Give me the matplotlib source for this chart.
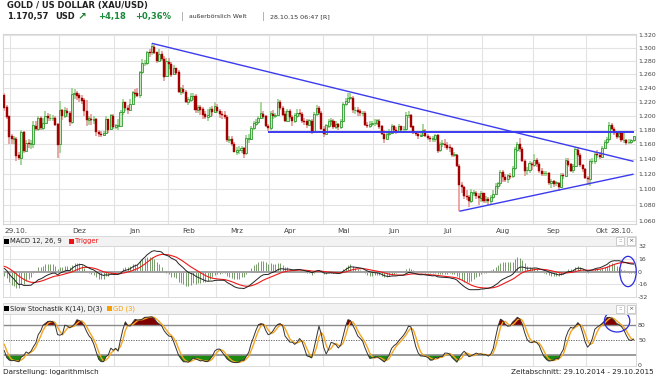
import numpy as np
import pandas as pd
import matplotlib.pyplot as plt
from matplotlib.patches import Rectangle, Ellipse
from matplotlib.ticker import FixedLocator, NullLocator, NullFormatter

# Daily XAU/USD data, 29.10.2014 - 28.10.2015 (business days)
dates = pd.bdate_range('2014-10-29', '2015-10-28')
first_open = 1229

closes = [
    1212, 1199, 1171, 1168, 1168, 1145, 1142, 1177, 1151, 1162, 1161, 1161, 1186, 1182, 1197, 1183,
    1190, 1199, 1197, 1197, 1197, 1188, 1160, 1208, 1200, 1207, 1204, 1191, 1231, 1232, 1229, 1226,
    1222, 1207, 1194, 1196, 1194, 1195, 1177, 1175, 1173, 1176, 1195, 1181, 1200, 1184, 1186, 1186,
    1205, 1219, 1211, 1208, 1217, 1233, 1232, 1229, 1263, 1277, 1277, 1294, 1293, 1302, 1293, 1280,
    1291, 1283, 1257, 1279, 1276, 1260, 1269, 1263, 1234, 1239, 1234, 1220, 1223, 1228, 1228, 1208,
    1212, 1209, 1202, 1198, 1200, 1209, 1205, 1213, 1207, 1203, 1201, 1198, 1166, 1167, 1161, 1150,
    1152, 1152, 1155, 1148, 1168, 1168, 1183, 1189, 1191, 1197, 1203, 1199, 1186, 1183, 1203, 1200,
    1201, 1219, 1211, 1202, 1193, 1206, 1198, 1193, 1200, 1204, 1203, 1193, 1192, 1187, 1193, 1178,
    1202, 1211, 1204, 1182, 1175, 1186, 1192, 1193, 1184, 1188, 1184, 1192, 1217, 1220, 1225, 1226,
    1208, 1208, 1206, 1204, 1204, 1187, 1186, 1188, 1190, 1190, 1193, 1185, 1175, 1168, 1174, 1176,
    1185, 1180, 1179, 1185, 1181, 1181, 1201, 1201, 1185, 1176, 1175, 1172, 1173, 1179, 1172, 1169,
    1168, 1168, 1173, 1152, 1160, 1161, 1159, 1156, 1155, 1146, 1146, 1131, 1106, 1103, 1092, 1090,
    1085, 1096, 1096, 1092, 1089, 1095, 1086, 1087, 1085, 1090, 1094, 1104, 1108, 1123, 1116, 1113,
    1118, 1117, 1128, 1153, 1160, 1154, 1138, 1125, 1125, 1134, 1132, 1139, 1134, 1124, 1121, 1121,
    1121, 1109, 1111, 1108, 1109, 1103, 1119, 1118, 1138, 1133, 1125, 1131, 1153, 1146, 1132, 1127,
    1115, 1114, 1137, 1137, 1147, 1146, 1143, 1155, 1163, 1167, 1187, 1182, 1176, 1171, 1176, 1166,
    1166, 1163, 1163, 1166, 1170.6,
]
highs = [
    1232, 1215, 1200, 1175, 1172, 1170, 1150, 1180, 1178, 1166, 1168, 1166, 1192, 1192, 1200, 1200,
    1197, 1207, 1204, 1202, 1201, 1199, 1190, 1221, 1210, 1212, 1211, 1206, 1240, 1238, 1236, 1233,
    1229, 1226, 1222, 1200, 1203, 1199, 1197, 1180, 1178, 1178, 1199, 1196, 1203, 1202, 1188, 1195,
    1208, 1224, 1220, 1215, 1224, 1235, 1239, 1240, 1265, 1283, 1282, 1296, 1299, 1307, 1305, 1293,
    1298, 1295, 1288, 1285, 1284, 1278, 1274, 1270, 1266, 1242, 1244, 1237, 1227, 1232, 1233, 1231,
    1215, 1215, 1212, 1206, 1210, 1213, 1214, 1220, 1216, 1210, 1207, 1206, 1201, 1172, 1171, 1164,
    1156, 1158, 1158, 1156, 1173, 1175, 1186, 1192, 1195, 1200, 1220, 1206, 1201, 1189, 1206, 1208,
    1204, 1224, 1222, 1214, 1206, 1209, 1209, 1201, 1204, 1209, 1210, 1205, 1197, 1195, 1196, 1195,
    1205, 1215, 1214, 1206, 1185, 1189, 1196, 1197, 1195, 1193, 1190, 1195, 1220, 1226, 1232, 1233,
    1228, 1213, 1212, 1210, 1207, 1206, 1191, 1192, 1193, 1195, 1196, 1195, 1187, 1180, 1177, 1181,
    1189, 1187, 1184, 1188, 1186, 1185, 1205, 1207, 1203, 1186, 1179, 1177, 1177, 1188, 1181, 1174,
    1172, 1172, 1175, 1175, 1163, 1166, 1167, 1163, 1160, 1157, 1149, 1147, 1133, 1110, 1105, 1099,
    1093, 1100, 1099, 1098, 1095, 1098, 1096, 1092, 1090, 1093, 1099, 1108, 1110, 1126, 1125, 1120,
    1120, 1121, 1131, 1156, 1163, 1169, 1156, 1140, 1130, 1137, 1136, 1147, 1141, 1136, 1128, 1124,
    1124, 1123, 1113, 1112, 1111, 1110, 1121, 1121, 1141, 1141, 1135, 1134, 1156, 1156, 1148, 1133,
    1128, 1117, 1140, 1142, 1149, 1152, 1149, 1158, 1166, 1170, 1191, 1190, 1184, 1179, 1178, 1177,
    1179, 1167, 1167, 1168, 1172,
]
lows = [
    1206, 1195, 1161, 1160, 1160, 1137, 1139, 1132, 1148, 1150, 1155, 1154, 1155, 1178, 1179, 1180,
    1180, 1188, 1192, 1193, 1193, 1185, 1142, 1148, 1194, 1197, 1198, 1186, 1188, 1224, 1222, 1220,
    1216, 1200, 1185, 1187, 1187, 1188, 1171, 1170, 1170, 1171, 1174, 1176, 1180, 1181, 1182, 1180,
    1185, 1201, 1206, 1203, 1206, 1215, 1225, 1227, 1225, 1260, 1272, 1274, 1286, 1289, 1291, 1277,
    1279, 1280, 1250, 1256, 1268, 1256, 1259, 1259, 1232, 1230, 1231, 1218, 1215, 1220, 1222, 1204,
    1204, 1201, 1196, 1195, 1193, 1198, 1200, 1204, 1204, 1197, 1196, 1195, 1163, 1162, 1158, 1149,
    1146, 1147, 1148, 1142, 1146, 1162, 1166, 1180, 1186, 1189, 1196, 1195, 1184, 1178, 1180, 1196,
    1197, 1199, 1208, 1200, 1191, 1192, 1195, 1186, 1190, 1197, 1198, 1190, 1187, 1183, 1185, 1174,
    1177, 1200, 1201, 1180, 1170, 1174, 1183, 1187, 1181, 1182, 1180, 1182, 1191, 1214, 1218, 1222,
    1204, 1203, 1200, 1200, 1200, 1185, 1183, 1183, 1186, 1185, 1187, 1182, 1173, 1162, 1167, 1171,
    1174, 1178, 1175, 1177, 1177, 1177, 1178, 1197, 1183, 1174, 1171, 1168, 1170, 1172, 1170, 1166,
    1163, 1164, 1163, 1148, 1150, 1156, 1155, 1152, 1150, 1143, 1143, 1129, 1072, 1096, 1088, 1086,
    1077, 1082, 1091, 1087, 1080, 1084, 1082, 1083, 1080, 1081, 1087, 1093, 1100, 1105, 1110, 1110,
    1109, 1113, 1115, 1126, 1150, 1149, 1136, 1118, 1119, 1122, 1126, 1130, 1130, 1121, 1117, 1117,
    1117, 1106, 1102, 1103, 1104, 1098, 1102, 1113, 1116, 1130, 1123, 1122, 1129, 1143, 1130, 1123,
    1113, 1106, 1105, 1134, 1134, 1141, 1140, 1141, 1154, 1160, 1165, 1180, 1173, 1168, 1169, 1164,
    1162, 1159, 1160, 1160, 1164,
]

# prior month (30.09. - 28.10.2014), only used as indicator history
warm_closes = [1208, 1215, 1214, 1192, 1206, 1210, 1225, 1223, 1222, 1229, 1234,
               1244, 1239, 1237, 1245, 1251, 1245, 1229, 1231, 1229, 1226]
warm_highs = [1218, 1218, 1222, 1215, 1209, 1213, 1227, 1236, 1227, 1236, 1237,
              1249, 1247, 1242, 1248, 1255, 1253, 1247, 1236, 1235, 1233]
warm_lows = [1204, 1206, 1205, 1190, 1191, 1204, 1205, 1220, 1216, 1220, 1226,
             1226, 1234, 1231, 1235, 1240, 1238, 1226, 1227, 1225, 1222]

price_ticks = [1060, 1080, 1100, 1120, 1140, 1160, 1180, 1200, 1220, 1240, 1260, 1280, 1300, 1320]
month_names = ['Dez', 'Jan', 'Feb', 'Mrz', 'Apr', 'Mai', 'Jun', 'Jul', 'Aug', 'Sep', 'Okt']

# trend lines (date, price)
trend_lines = [
    (('2015-01-22', 1307), ('2015-10-28', 1137)),
    (('2015-03-31', 1177), ('2015-10-28', 1177)),
    (('2015-07-20', 1072), ('2015-10-28', 1120)),
]

closes = np.array(closes, dtype=float)
highs = np.array(highs, dtype=float)
lows = np.array(lows, dtype=float)
opens = np.concatenate([[first_open], closes[:-1]])
n = len(dates)
x = np.arange(n)
pos = {d: i for i, d in enumerate(dates)}

# indicators (computed with the prior month as history)
c = pd.Series(np.concatenate([warm_closes, closes]))
hi = pd.Series(np.concatenate([warm_highs, highs]))
lo = pd.Series(np.concatenate([warm_lows, lows]))
macd_all = c.ewm(span=12, adjust=False).mean() - c.ewm(span=26, adjust=False).mean()
trigger_all = macd_all.ewm(span=9, adjust=False).mean()
fast_k = 100 * (c - lo.rolling(14, min_periods=1).min()) / (
    hi.rolling(14, min_periods=1).max() - lo.rolling(14, min_periods=1).min())
slow_k_all = fast_k.rolling(3, min_periods=1).mean()
slow_d_all = slow_k_all.rolling(3, min_periods=1).mean()
macd = macd_all.values[-n:]
trigger = trigger_all.values[-n:]
hist = macd - trigger
slow_k = slow_k_all.values[-n:]
slow_d = slow_d_all.values[-n:]

W, H = 657, 378
fig = plt.figure(figsize=(W / 100, H / 100), dpi=100)


def px_axes(x0, y0, x1, y1):
    return fig.add_axes([x0 / W, 1 - y1 / H, (x1 - x0) / W, (y1 - y0) / H])


def px(xp, yp):
    return xp / W, 1 - yp / H


month_starts = [i for i in range(1, n) if dates[i].month != dates[i - 1].month]
XL = (-0.55, 261)
grid_c = '#e3e3e3'
lab_c = '#444444'
FS = 5.2
TFS = 4.5

# ---------- main price chart ----------
ax = px_axes(3, 34, 636, 224)
ax.set_yscale('log')
ax.set_ylim(1056, 1321.5)
ax.set_xlim(*XL)
ax.yaxis.set_major_locator(FixedLocator(price_ticks))
ax.yaxis.set_minor_locator(NullLocator())
ax.yaxis.set_minor_formatter(NullFormatter())
ax.set_yticklabels(['{:,}'.format(t).replace(',', '.') for t in price_ticks])
ax.yaxis.tick_right()
ax.tick_params(axis='y', length=0, pad=1.5, labelsize=TFS, labelcolor=lab_c)
ax.set_xticks([])
for t in price_ticks:
    ax.axhline(t, color=grid_c, lw=0.8, zorder=0)
for m in month_starts:
    ax.axvline(m - 0.5, color=grid_c, lw=0.8, zorder=0)
for s in ax.spines.values():
    s.set_color('#d5d5d5')
    s.set_linewidth(0.8)

up = closes >= opens
ax.vlines(x[up], lows[up], highs[up], color='#9fd493', lw=1.3, zorder=2)
ax.vlines(x[~up], lows[~up], highs[~up], color='#e8a0a0', lw=1.3, zorder=2)
ax.bar(x[up], closes[up] - opens[up] + 0.4, bottom=opens[up], width=0.85,
       facecolor='#c6e8bd', edgecolor='#2f9a2f', lw=0.6, zorder=3)
ax.bar(x[~up], closes[~up] - opens[~up] - 0.4, bottom=opens[~up], width=0.85,
       facecolor='#a30000', edgecolor='#a30000', lw=0.3, zorder=3)

for (d0, p0), (d1, p1) in trend_lines:
    ax.plot([pos[pd.Timestamp(d0)], pos[pd.Timestamp(d1)]], [p0, p1],
            color='#3b3bf0', lw=1.4 if p0 == p1 else 1.0, zorder=4, solid_capstyle='butt')

# month labels
xt = ax.get_xaxis_transform()
ax.text(0, -0.02, '29.10.', transform=xt, ha='left', va='top', fontsize=FS, color=lab_c)
for m, name in zip(month_starts[1:], month_names):
    off = 6 if name == 'Okt' else 8
    ax.text(m + off, -0.02, name, transform=xt, ha='center', va='top', fontsize=FS, color=lab_c)
ax.text(n - 1, -0.02, '28.10.', transform=xt, ha='right', va='top', fontsize=FS, color=lab_c)


def panel_header(y0, y1, items):
    fig.patches.append(Rectangle(px(3, y1), 633 / W, (y1 - y0) / H, transform=fig.transFigure,
                                 facecolor='#f2f2f2', edgecolor='#d5d5d5', lw=0.6))
    yc = 1 - (y0 + y1) / 2 / H
    for xp, txt, col in items:
        fig.patches.append(Rectangle(px(xp, (y0 + y1) / 2 + 2.5), 5 / W, 5 / H,
                                     transform=fig.transFigure, facecolor=col, edgecolor='none'))
        fig.text((xp + 6) / W, yc, txt, fontsize=4.9, color='#222222' if col == 'black' else col,
                 va='center', ha='left')
    for xp, sym in [(616, '::'), (627, '×')]:
        fig.patches.append(Rectangle(px(xp, (y0 + y1) / 2 + 4), 8 / W, 8 / H,
                                     transform=fig.transFigure, facecolor='white',
                                     edgecolor='#bbbbbb', lw=0.5))
        fig.text((xp + 4) / W, yc, sym, fontsize=4.5, color='#555555', ha='center', va='center')


def panel_axes(ax_):
    ax_.set_xlim(*XL)
    ax_.set_xticks([])
    ax_.yaxis.tick_right()
    ax_.tick_params(axis='y', length=0, pad=1.5, labelsize=TFS, labelcolor=lab_c)
    for m in month_starts:
        ax_.axvline(m - 0.5, color=grid_c, lw=0.8, zorder=0)
    for s in ax_.spines.values():
        s.set_color('#d5d5d5')
        s.set_linewidth(0.6)


# ---------- MACD ----------
panel_header(236, 246, [(4, 'MACD 12, 26, 9', 'black'), (69, 'Trigger', '#ee1111')])
axm = px_axes(3, 246, 636, 297)
panel_axes(axm)
axm.set_ylim(-32, 32)
axm.set_yticks([32, 16, 0, -16, -32])
axm.set_yticklabels(['32', '16', '0', '-16', '-32'])
axm.axhline(16, color=grid_c, lw=0.8, zorder=0)
axm.axhline(-16, color=grid_c, lw=0.8, zorder=0)
axm.vlines(x, 0, hist * 2, color='#5e8a4e', lw=0.7, alpha=0.85, zorder=1)
axm.axhline(0, color='#a0a0a0', lw=1.4, zorder=2)
axm.plot(x, trigger, color='#f01818', lw=0.8, zorder=3)
axm.plot(x, macd, color='#222222', lw=0.7, zorder=4)
axm.add_patch(Ellipse((257.7, 0), 6.8, 38, facecolor='none', edgecolor='#2a2ae0', lw=0.9,
                      clip_on=False, zorder=5))

# ---------- Slow Stochastic ----------
panel_header(303, 314, [(4, 'Slow Stochastik K(14), D(3)', 'black'), (107, 'GD (3)', '#f5a000')])
axs = px_axes(3, 314, 636, 366)
panel_axes(axs)
axs.set_ylim(-2, 102)
axs.set_yticks([80, 50, 0])
axs.set_yticklabels(['80', '50', '0'])
axs.fill_between(x, slow_k, 80, where=slow_k > 80, interpolate=True, color='#800000', lw=0, zorder=1)
axs.fill_between(x, slow_k, 20, where=slow_k < 20, interpolate=True, color='#1f8a12', lw=0, zorder=1)
axs.axhline(80, color='#8a8a8a', lw=1.0, zorder=2)
axs.axhline(20, color='#8a8a8a', lw=1.2, zorder=2)
axs.axhline(50, color='#555555', lw=0.6, ls=(0, (1.5, 1.5)), zorder=2)
axs.plot(x, slow_d, color='#f5a623', lw=1.0, zorder=3)
axs.plot(x, slow_k, color='#333333', lw=0.7, zorder=4)
axs.add_patch(Ellipse((253.2, 88), 10.5, 44, facecolor='none', edgecolor='#2a2ae0', lw=0.9,
                      clip_on=False, zorder=5))

# ---------- header and footer texts ----------
fig.text(7 / W, 1 - 5.5 / H, 'GOLD / US DOLLAR (XAU/USD)', fontsize=6.0, fontweight='bold',
         color='#222222', va='center')
y2 = 1 - 16.5 / H
fig.text(7 / W, y2, '1.170,57', fontsize=6.0, fontweight='bold', color='#222222', va='center')
fig.text(55 / W, y2, 'USD', fontsize=6.0, fontweight='bold', color='#222222', va='center')
fig.text(78 / W, y2, '↗', fontsize=7.5, fontweight='bold', color='#1a7a2e', va='center')
fig.text(98 / W, y2, '+4,18', fontsize=6.0, fontweight='bold', color='#1a8a3a', va='center')
fig.text(135 / W, y2, '+0,36%', fontsize=6.0, fontweight='bold', color='#1a8a3a', va='center')
fig.text(181 / W, y2, '|', fontsize=5.5, color='#888888', va='center')
fig.text(189 / W, y2, 'außerbörslich Welt', fontsize=4.4, color='#333333', va='center')
fig.text(262 / W, y2, '|', fontsize=5.5, color='#888888', va='center')
fig.text(270 / W, y2, '28.10.15 06:47 [R]', fontsize=4.6, color='#333333', va='center')

fig.text(3 / W, 1 - 372 / H, 'Darstellung: logarithmisch', fontsize=FS, color='#222222', va='center')
fig.text(654 / W, 1 - 372 / H, 'Zeitabschnitt: 29.10.2014 - 29.10.2015', fontsize=FS,
         color='#222222', va='center', ha='right')

fig.savefig('out.png', dpi=100, facecolor='white')
